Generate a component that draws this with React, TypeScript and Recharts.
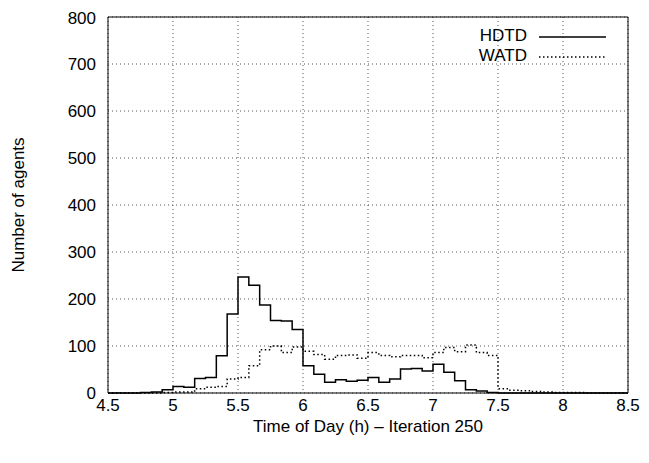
import React from 'react';
import { LineChart, Line, XAxis, YAxis, CartesianGrid, ReferenceArea, Label } from 'recharts';

const binStart = 4.5;
const binWidth = 1 / 12;
const hdtd = [0,0,0,1,2,7, 14,12,31,33,79,168, 247,229,187,154,153,135, 58,40,23,28,25,27, 33,23,30,51,52,47, 61,44,26,7,4,1, 0,0,0,0,0,0, 0,0,0,0,0,0];
const watd = [0,0,0,0,0,1, 2,2,9,12,14,30, 33,58,92,100,86,98, 89,82,72,80,81,74, 86,80,77,80,80,75, 86,97,88,102,86,80, 9,6,5,3,2,1, 1,1,0,0,0,0];
const xTicks = [4.5,5,5.5,6,6.5,7,7.5,8,8.5];
const yTicks = [0,100,200,300,400,500,600,700,800];

const data = hdtd.map((h, i) => ({ x: binStart + i * binWidth, h, w: watd[i] }));
data.push({ x: 8.5, h: hdtd[hdtd.length - 1], w: watd[watd.length - 1] });

const font = '"Liberation Sans", Arial, sans-serif';
const tick = { fill: '#000', fontSize: 17, fontFamily: font };

export default function App() {
  return (
    <div style={{ position: 'relative', width: 641, height: 455, fontFamily: font }}>
      <LineChart width={641} height={455} data={data} margin={{ top: 9, right: 21, left: 40, bottom: 30 }}>
        <CartesianGrid stroke="#555" strokeDasharray="1 3" />
        <XAxis dataKey="x" type="number" domain={[4.5, 8.5]} ticks={xTicks} tick={tick} tickLine={false} axisLine={false} tickMargin={0} height={40}>
          <Label value="Time of Day (h) – Iteration 250" position="insideBottom" offset={1} style={{ fill: '#000', fontSize: 17, fontFamily: font }} />
        </XAxis>
        <YAxis type="number" domain={[0, 800]} ticks={yTicks} tick={tick} tickLine={false} axisLine={false} width={60} tickMargin={6}>
          <Label value="Number of agents" angle={-90} position="insideLeft" offset={-30} style={{ fill: '#000', fontSize: 17, fontFamily: font, textAnchor: 'middle' }} />
        </YAxis>
        <ReferenceArea x1={4.5} x2={8.5} y1={0} y2={800} fill="none" stroke="#000" strokeWidth={1} />
        <Line type="stepAfter" dataKey="w" stroke="#000" strokeWidth={1.5} strokeDasharray="1.5 2.5" dot={false} isAnimationActive={false} />
        <Line type="stepAfter" dataKey="h" stroke="#000" strokeWidth={1.5} dot={false} isAnimationActive={false} />
      </LineChart>
      <div style={{ position: 'absolute', left: 412, top: 18, width: 107, textAlign: 'right', fontSize: 17, lineHeight: '20px', color: '#000' }}>
        <div>HDTD</div>
        <div>WATD</div>
      </div>
      <svg style={{ position: 'absolute', left: 0, top: 0 }} width={641} height={455}>
        <line x1={531} x2={598} y1={29} y2={29} stroke="#000" strokeWidth={1.5} />
        <line x1={531} x2={598} y1={49} y2={49} stroke="#000" strokeWidth={1.5} strokeDasharray="1.5 2.5" />
      </svg>
    </div>
  );
}
